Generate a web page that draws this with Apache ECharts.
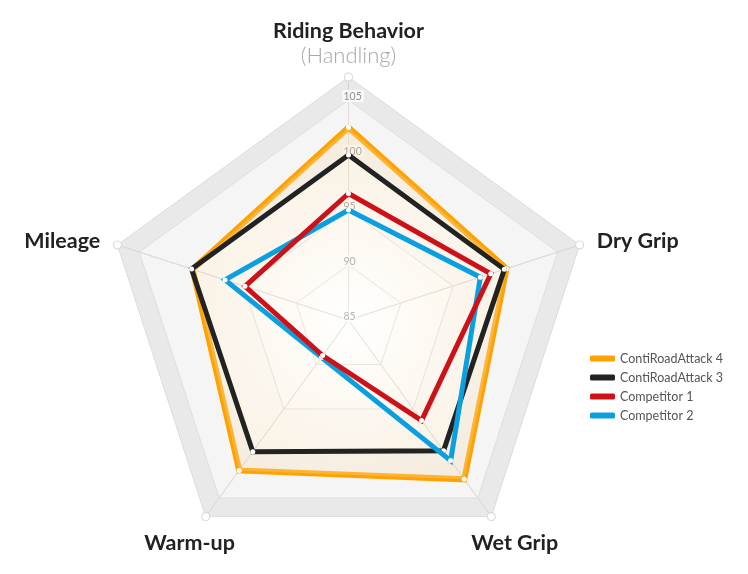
<!DOCTYPE html>
<html>
<head>
<meta charset="utf-8">
<script src="https://cdn.jsdelivr.net/npm/echarts@6/dist/echarts.min.js"></script>
<style>
html,body{margin:0;padding:0;background:#fff;}
#chart{width:748px;height:574px;}
</style>
</head>
<body>
<div id="chart"></div>
<script>
// Indicators listed counter-clockwise from the top (ECharts radar order)
var indicatorNames = ['Riding Behavior', 'Mileage', 'Warm-up', 'Wet Grip', 'Dry Grip'];
var axisMin = 85;
var axisMax = 105;
var seriesNames = ['ContiRoadAttack 4', 'ContiRoadAttack 3', 'Competitor 1', 'Competitor 2'];
var seriesColors = ['#ffa200', '#222222', '#cc1218', '#0a9fdf'];
var cra4 = [102.5, 99.9, 101.9, 102.9, 100.1];
var cra3 = [100.0, 100.0, 99.8, 99.7, 99.9];
var comp1 = [96.5, 94.9, 89.0, 96.3, 98.6];
var comp2 = [95.0, 96.8, 89.2, 100.8, 97.6];

var FONT = 'Lato';
var center = [348.5, 320];

var nameCfg = [
  {gap: 10, style: {align: 'center', verticalAlign: 'bottom'}},
  {gap: 18, style: {align: 'right', verticalAlign: 'middle', padding: [4, 0, 0, 0]}},
  {gap: 29, style: {align: 'center', verticalAlign: 'middle', padding: [6, 0, 0, 2]}},
  {gap: 33, style: {align: 'center', verticalAlign: 'middle', padding: [0, 0, 0, 8]}},
  {gap: 18, style: {align: 'left', verticalAlign: 'middle', padding: [4, 0, 0, 0]}}
];

var outerIndicators = indicatorNames.map(function (n, i) {
  return {name: n, min: 0, max: 1, nameGap: nameCfg[i].gap, nameTextStyle: nameCfg[i].style};
});
var plainIndicators = indicatorNames.map(function (n) {
  return {name: n, min: 0, max: 1};
});
var dataIndicators = indicatorNames.map(function (n, i) {
  var o = {name: n, min: axisMin, max: axisMax};
  if (i === 0) {
    o.axisLabel = {
      show: true, fontSize: 10.5, fontFamily: FONT, color: '#8f8f8f',
      align: 'left', verticalAlign: 'middle', margin: 6,
      padding: [0, 0, 8, 0],
      formatter: '{v|{value}}',
      rich: {
        v: {
          color: '#8f8f8f', fontSize: 10.5, fontFamily: FONT,
          backgroundColor: 'rgba(255,255,255,0.75)', padding: [1, 2, 0, 1]
        }
      }
    };
  }
  return o;
});

var chart = echarts.init(document.getElementById('chart'), null, {renderer: 'canvas'});

var order = [0, 1, 3, 2]; // draw order: orange, black, blue, red (red on top)
var values = [cra4, cra3, comp1, comp2];
var seriesList = order.map(function (k, idx) {
  var item = {
    name: seriesNames[k],
    value: values[k],
    symbol: 'circle',
    symbolSize: 5,
    itemStyle: {color: '#ffffff', borderWidth: 0},
    lineStyle: {color: seriesColors[k], width: k === 0 ? 6 : 5, join: 'miter'}
  };
  if (k === 0) {
    item.areaStyle = {
      color: {
        type: 'radial', x: 0.5, y: 0.55, r: 0.62,
        colorStops: [
          {offset: 0, color: 'rgba(255,255,255,0.5)'},
          {offset: 1, color: 'rgba(244,214,164,0.42)'}
        ]
      }
    };
  }
  return {
    type: 'radar', radarIndex: 1, name: seriesNames[k],
    z: 3 + idx,
    color: seriesColors[k],
    symbol: 'circle', symbolSize: 5,
    data: [item]
  };
});

chart.setOption({
  animation: false,
  legend: {
    orient: 'vertical', left: 585, top: 347,
    itemWidth: 25, itemHeight: 6, itemGap: 6,
    icon: 'roundRect',
    textStyle: {color: '#555', fontSize: 12.5, fontFamily: FONT},
    data: seriesNames.map(function (n, i) {
      return {name: n, itemStyle: {color: seriesColors[i]}};
    })
  },
  radar: [
    {
      center: center, radius: 243, startAngle: 90, splitNumber: 1, shape: 'polygon',
      indicator: outerIndicators,
      axisName: {
        color: '#222', fontFamily: FONT, fontWeight: 'bold', fontSize: 21.5,
        formatter: function (name) {
          if (name === 'Riding Behavior') return '{a|Riding Behavior}\n{b|(Handling)}';
          return name;
        },
        rich: {
          a: {fontFamily: FONT, fontWeight: 'bold', fontSize: 21.5, color: '#222', lineHeight: 25, align: 'center'},
          b: {fontFamily: FONT, fontWeight: 300, fontSize: 22, color: '#a8a8a8', lineHeight: 23, align: 'center'}
        }
      },
      splitArea: {show: true, areaStyle: {color: ['#e9e9e9']}},
      splitLine: {show: true, lineStyle: {color: '#dcdcdc', width: 1}},
      axisLine: {show: true, symbol: ['none', 'circle'], symbolSize: [9, 9], lineStyle: {color: '#d6d6d6', width: 1}},
      axisLabel: {show: false},
      axisTick: {show: false}
    },
    {
      center: center, radius: 220, startAngle: 90, splitNumber: 4, shape: 'polygon',
      indicator: dataIndicators,
      axisName: {show: false},
      splitArea: {show: true, areaStyle: {color: ['#ffffff', '#ffffff', '#fcfcfc', '#f5f5f5']}},
      splitLine: {show: true, lineStyle: {color: '#e2ded8', width: 1}},
      axisLine: {show: true, lineStyle: {color: '#e2ded8', width: 1}},
      axisLabel: {show: false},
      axisTick: {show: false}
    },
    {
      center: center, radius: 243, startAngle: 90, splitNumber: 1, shape: 'polygon',
      indicator: plainIndicators,
      axisName: {show: false},
      splitArea: {show: false},
      splitLine: {show: false},
      axisLine: {show: true, symbol: ['none', 'circle'], symbolSize: [7, 7], lineStyle: {color: '#ffffff', width: 0}},
      axisLabel: {show: false},
      axisTick: {show: false}
    }
  ],
  series: seriesList
});
</script>
</body>
</html>
